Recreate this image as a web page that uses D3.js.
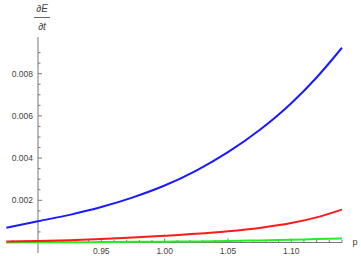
<!DOCTYPE html>
<html><head><meta charset="utf-8">
<script src="https://cdn.jsdelivr.net/npm/d3@7"></script>
<style>body{margin:0;background:#fff}svg{display:block}</style>
</head><body>
<svg id="c" width="361" height="256"></svg>
<script>
const pValues = [0.875, 0.90, 0.925, 0.95, 0.975, 1.00, 1.025, 1.05, 1.075, 1.10, 1.12, 1.14];
const blueValues = [0.00070, 0.00101, 0.00131, 0.00168, 0.00214, 0.00270, 0.00341, 0.00428, 0.00533, 0.00660, 0.00782, 0.00923];
const redValues = [0.00005, 0.00007, 0.00011, 0.00017, 0.00024, 0.00032, 0.00041, 0.00053, 0.00069, 0.00092, 0.00119, 0.00156];
const greenValues = [0.0, 0.00001, 0.00001, 0.00002, 0.00003, 0.00004, 0.00005, 0.00007, 0.00010, 0.00013, 0.00016, 0.00019];
const xTickValues = [0.95, 1.00, 1.05, 1.10];
const yTickValues = [0.002, 0.004, 0.006, 0.008];
const series = [
  {name: "blue", values: blueValues, color: "#1a1aff"},
  {name: "red", values: redValues, color: "#ff1a1a"},
  {name: "green", values: greenValues, color: "#22ee22"}
];

const svg = d3.select("#c");
const x = d3.scaleLinear().domain([0.90, 1.10]).range([38, 291.3]);
const y = d3.scaleLinear().domain([0, 0.008]).range([242.5, 73.7]);
const axisColor = "#777";
const textColor = "#444";
const font = "Liberation Sans, Arial, sans-serif";

svg.append("line").attr("x1", x(0.875)).attr("x2", x(1.14)).attr("y1", y(0)).attr("y2", y(0))
  .attr("stroke", axisColor).attr("stroke-width", 1);
svg.append("line").attr("x1", x(0.90)).attr("x2", x(0.90)).attr("y1", 37).attr("y2", 253)
  .attr("stroke", axisColor).attr("stroke-width", 1);

const xMinor = d3.range(88, 115).map(d => d / 100).filter(d => !xTickValues.some(t => Math.abs(t - d) < 1e-9) && Math.abs(d - 0.90) > 1e-9);
svg.selectAll(".xminor").data(xMinor).enter().append("line")
  .attr("x1", d => x(d)).attr("x2", d => x(d)).attr("y1", y(0)).attr("y2", y(0) - 2.5)
  .attr("stroke", axisColor).attr("stroke-width", 1);
svg.selectAll(".xmajor").data(xTickValues).enter().append("line")
  .attr("x1", d => x(d)).attr("x2", d => x(d)).attr("y1", y(0)).attr("y2", y(0) - 4)
  .attr("stroke", axisColor).attr("stroke-width", 1);
svg.selectAll(".xlab").data(xTickValues).enter().append("text")
  .attr("x", d => x(d)).attr("y", 254).attr("text-anchor", "middle")
  .attr("font-family", font).attr("font-size", 8.5).attr("fill", textColor)
  .text(d => d3.format(".2f")(d));

const yMinor = d3.range(1, 19).map(d => d * 0.0005).filter(d => !yTickValues.some(t => Math.abs(t - d) < 1e-9));
svg.selectAll(".yminor").data(yMinor).enter().append("line")
  .attr("x1", x(0.90)).attr("x2", x(0.90) + 2.5).attr("y1", d => y(d)).attr("y2", d => y(d))
  .attr("stroke", axisColor).attr("stroke-width", 1);
svg.selectAll(".ymajor").data(yTickValues).enter().append("line")
  .attr("x1", x(0.90)).attr("x2", x(0.90) + 4).attr("y1", d => y(d)).attr("y2", d => y(d))
  .attr("stroke", axisColor).attr("stroke-width", 1);
svg.selectAll(".ylab").data(yTickValues).enter().append("text")
  .attr("x", 33).attr("y", d => y(d) + 3).attr("text-anchor", "end")
  .attr("font-family", font).attr("font-size", 8.5).attr("fill", textColor)
  .text(d => d3.format(".3f")(d));

svg.append("text").attr("x", 355).attr("y", 245).attr("text-anchor", "middle")
  .attr("font-family", font).attr("font-size", 9).attr("fill", textColor).text("p");
svg.append("text").attr("x", 42).attr("y", 12).attr("text-anchor", "middle")
  .attr("font-family", font).attr("font-size", 10).attr("font-style", "italic").attr("fill", textColor).text("∂E");
svg.append("line").attr("x1", 34).attr("x2", 50).attr("y1", 17.5).attr("y2", 17.5)
  .attr("stroke", textColor).attr("stroke-width", 0.8);
svg.append("text").attr("x", 42).attr("y", 30).attr("text-anchor", "middle")
  .attr("font-family", font).attr("font-size", 10).attr("font-style", "italic").attr("fill", textColor).text("∂t");

const line = d3.line().x(d => x(d[0])).y(d => y(d[1])).curve(d3.curveMonotoneX);
[series[2], series[1], series[0]].forEach(s => {
  svg.append("path").datum(pValues.map((p, i) => [p, s.values[i]]))
    .attr("d", line).attr("fill", "none").attr("stroke", s.color)
    .attr("stroke-width", 2).attr("stroke-linecap", "butt");
});
</script>
</body></html>
